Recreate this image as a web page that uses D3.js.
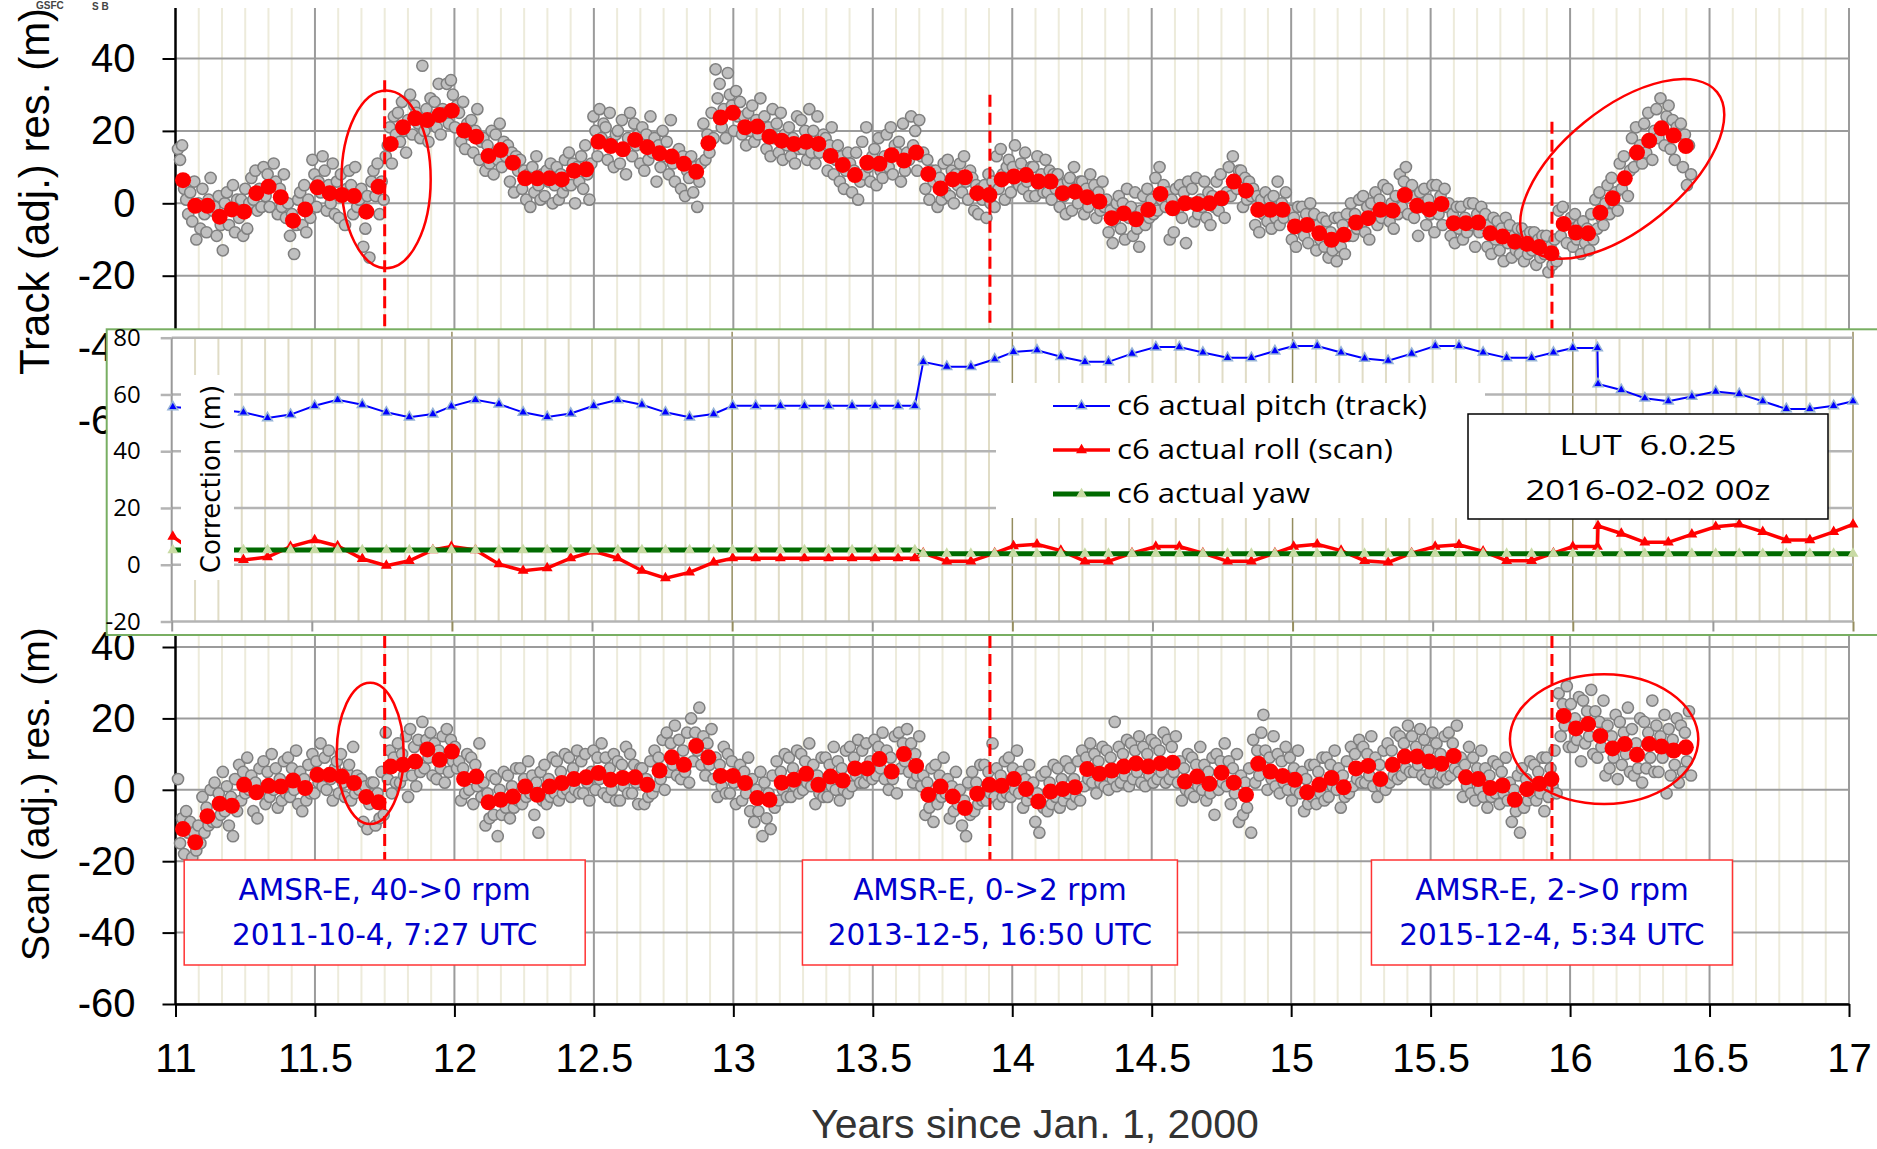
<!DOCTYPE html>
<html>
<head>
<meta charset="utf-8">
<script src="https://cdn.jsdelivr.net/npm/d3@7"></script>
<style>
  body { margin: 0; background: #fff; }
  svg { display: block; }
</style>
</head>
<body>
<div id="chart"></div>
<script>
// ---- data ----
const xTicks = [11, 11.5, 12, 12.5, 13, 13.5, 14, 14.5, 15, 15.5, 16, 16.5, 17];
const resTicks = [40, 20, 0, -20, -40, -60];
const corrTicks = [80, 60, 40, 20, 0, -20];

// 16-day means (red dots), one every 16 days starting at redStart
const redStart = 11.027;
const redStep = 16 / 365.25;
const trackRed = [
  6.4, -0.7, -0.7, -3.7, -1.7, -2.3, 2.8, 4.6, 1.7, -4.8,
  -1.7, 4.4, 2.8, 2.3, 2.0, -2.3, 4.6, 16.4, 21.0, 23.5,
  23.0, 24.4, 25.6, 20.1, 18.4, 13.1, 14.7, 11.2, 6.9, 6.9,
  6.9, 6.6, 9.0, 9.4, 17.0, 15.8, 14.9, 17.5, 15.5, 13.8,
  12.9, 10.9, 8.7, 16.6, 23.7, 25.0, 21.0, 21.2, 18.4,
  17.3, 16.4, 17.0, 16.4, 13.1, 10.6, 7.8, 11.2, 10.9, 13.3,
  11.8, 14.0, 8.1, 4.1, 6.6, 7.2, 2.8, 2.3, 6.6, 7.4,
  7.8, 6.0, 6.0, 2.8, 3.2, 1.7, 0.5, -4.1, -2.8, -4.4,
  -1.8, 2.6, -1.4, 0.0, -0.2, 0.0, 1.4, 6.0, 3.5, -1.8,
  -1.8, -1.8, -6.4, -6.0, -8.3, -10.1,
  -8.7, -5.3, -4.1, -1.8, -2.0, 2.3, -0.7, -1.7, -0.2, -5.5,
  -5.5, -5.3, -8.3, -9.2, -10.6, -11.2, -12.1, -13.8, -5.7, -8.1,
  -8.3, -2.6, 1.4, 6.9, 14.0, 17.3, 20.7, 18.7, 15.8
];
const scanRed = [
  -11.0, -14.7, -7.4, -3.9, -4.5, 1.4, -0.7, 1.1, 0.9, 2.6,
  0.5, 4.2, 4.2, 3.7, 1.9, -2.0, -3.5, 6.5, 7.0, 7.9,
  11.3, 8.4, 10.7, 3.0, 3.7, -3.5, -2.8, -1.9, 0.9, -1.4,
  0.9, 1.9, 3.0, 3.5, 4.7, 2.8, 3.3, 3.5, 1.4, 5.4,
  9.1, 7.0, 12.3, 9.1, 3.9, 3.9, 1.9, -2.3, -2.8,
  2.0, 2.8, 4.5, 1.4, 3.7, 2.6, 6.0, 6.0, 8.6, 5.1,
  10.0, 6.7, -1.4, 0.9, -1.9, -5.1, -1.1, 1.4, 1.1, 3.0,
  0.2, -3.3, -0.5, 0.2, 0.7, 5.8, 4.5, 5.4, 6.5, 7.4,
  6.5, 7.4, 7.6, 2.3, 3.7, 1.7, 4.8, 2.0, -1.4, 7.3,
  5.1, 3.9, 2.8,
  -0.7, 1.4, 3.3, 0.7, 6.0, 6.7, 3.0, 7.0, 9.3, 9.3,
  7.9, 7.3, 9.5, 3.5, 3.0, 0.5, 1.2, -2.8, 0.2, 1.7,
  3.0, 20.7, 17.2, 18.4, 15.1, 11.6, 12.8, 9.8, 12.8, 12.1,
  11.0, 11.9
];

// individual residuals (gray), six per 16-day period
const grayStart = 11.009;
const grayStep = redStep / 6;
const trackGray = [
  15,12,16,4,1,-3, 3,-5,6,-10,0,-7, 4,-3,-8,1,7,-2, -1,-9,2,-6,-13,0, 3,-6,-2,5,-8,1,
  -4,1,-9,4,-7,0, 7,1,9,-2,4,-1, 10,2,8,-1,5,11, 6,-3,4,-1,8,-4, 0,-9,-3,-14,-6,1,
  3,-6,5,-8,1,-4, 12,8,-1,6,3,13, 9,-2,5,0,11,-3, 6,-4,8,2,-6,4, 9,5,-3,10,-1,1,
  4,-12,-7,2,-15,6, 9,2,11,-3,6,1, 13,16,21,11,24,19, 25,17,28,20,14,23, 30,19,27,25,22,18,
  38,20,26,17,29,22, 28,21,33,19,26,25, 33,22,34,30,21,27, 25,17,28,15,22,19, 23,14,20,26,12,17,
  18,9,16,11,20,8, 19,12,22,10,17,13, 16,6,14,3,13,9, 12,4,9,1,8,-1, 10,3,13,5,1,8,
  2,9,6,11,0,5, 10,1,8,3,12,5, 14,5,11,0,10,6, 13,4,16,8,1,11, 24,20,13,26,18,22,
  21,12,25,17,10,19, 20,11,23,15,8,18, 25,13,22,16,19,11, 21,9,19,12,24,14, 18,6,16,10,20,13,
  17,8,23,11,6,14, 15,4,13,2,9,7, 13,3,10,-1,6,11, 22,12,19,14,25,18, 37,29,33,21,26,18,
  36,30,27,20,31,24, 28,19,24,16,25,20, 27,17,23,19,29,22, 24,15,21,13,26,18, 22,14,25,12,19,16,
  21,13,18,11,24,15, 23,15,20,12,26,14, 20,11,24,14,17,19, 18,9,16,21,8,12, 16,6,13,4,9,14,
  11,3,9,14,1,6, 17,8,21,10,6,13, 15,5,18,9,7,13, 19,10,21,8,16,14, 17,6,22,9,14,12,
  24,16,20,9,23,13, 14,4,12,1,9,6, 9,-1,7,1,11,3, 12,2,9,0,8,5, 11,3,13,6,1,9,
  7,-2,5,-3,4,1, 5,-4,8,0,6,-1, 13,4,15,8,1,10, 12,3,10,16,6,5, 11,4,14,6,2,10,
  10,2,13,5,8,3, 12,3,9,1,8,4, 8,-1,5,2,-3,6, 7,-2,10,4,0,6, 6,-3,4,-1,8,2,
  5,-4,3,-2,6,-1, 1,-8,-2,-11,-5,0, 2,-7,0,-10,4,-4, -1,-9,3,-7,-12,-2, 2,-6,4,-4,1,-3,
  7,-2,10,1,5,-1, 3,-10,1,-8,4,-2, 5,-4,3,-11,6,0, 4,-5,7,-3,1,-1, 6,-4,3,-6,2,-1,
  6,-2,8,1,-4,3, 10,2,13,6,4,9, 9,-1,7,1,6,2, 4,-6,2,-8,1,-3, 3,-5,1,-7,2,-4,
  6,-6,0,-4,3,-2, -2,-10,-4,-12,-1,-7, -1,-9,-3,-11,0,-6, -3,-13,-6,-10,-4,-12, -5,-15,-8,-13,-4,-16,
  -4,-12,-6,-14,-3,-9, 0,-9,-3,-7,1,-6, 2,-8,-1,-10,0,-4, 3,-6,1,-4,5,-2, 4,-5,0,-7,2,-3,
  8,-1,6,10,-3,3, 5,-4,2,-9,3,-1, 4,-6,1,-3,5,-8, 5,-3,2,-6,4,-1, 0,-9,-3,-11,-1,-7,
  -1,-10,-4,-8,0,-6, 0,-12,-3,-8,-1,-6, -3,-12,-6,-14,-4,-10, -5,-13,-7,-16,-4,-11, -6,-15,-9,-13,-7,-14,
  -7,-16,-9,-14,-8,-13, -8,-17,-10,-15,-9,-14, -9,-19,-12,-17,-10,-16, -2,-9,-1,-6,-11,-5, -4,-12,-3,-10,-6,-14,
  -5,-11,-7,-13,-3,-10, 1,-7,3,-4,-6,0, 5,-3,7,0,3,-2, 11,4,13,7,2,9, 18,10,21,13,16,11,
  22,14,25,17,12,20, 26,18,29,21,16,24, 27,15,23,12,21,19, 22,10,19,5,16,8
];
const scanGray = [
  3,-15,-8,-18,-6,-12, -9,-19,-12,-17,-10,-15, -2,-12,-5,-10,0,-9, 2,-9,-1,-7,5,-6, 1,-10,-2,-13,3,-6,
  7,-3,5,-1,9,0, 4,-6,2,-8,6,-1, 8,-4,5,-2,10,0, 6,-5,3,-3,8,-1, 9,-2,6,0,11,-4,
  5,-6,3,-3,7,-1, 10,-1,8,2,13,1, 9,0,11,3,-3,6, 8,-1,10,2,-2,5, 7,-3,12,-1,4,0,
  3,-9,1,-11,-4,2, 2,-10,-1,-8,5,-7, 16,3,11,-1,9,2, 13,2,10,4,15,-2, 17,4,12,1,14,5,
  19,6,14,9,16,4, 13,3,11,6,15,2, 17,5,14,8,12,6, 8,-3,6,-1,10,0, 9,-4,7,1,13,-2,
  2,-10,-1,-8,4,-7, 3,-13,0,-7,5,-5, 4,-8,1,-5,6,-3, 6,-4,3,-2,8,-1, 4,-7,2,-12,5,-3,
  7,-4,3,-2,9,-1, 8,-3,5,-1,10,0, 9,-2,6,0,11,-1, 8,-1,10,2,-3,5, 11,0,9,3,13,-1,
  9,-2,6,0,10,-3, 8,-3,7,1,12,-1, 10,-1,7,2,-4,6, 6,-4,3,-2,8,-1, 11,1,9,3,14,0,
  16,5,13,7,18,4, 14,3,11,5,16,2, 20,8,16,11,23,7, 15,4,13,7,17,3, 9,-2,7,1,12,-1,
  10,-1,8,2,-4,5, 7,-3,5,-1,9,-6, 3,-9,0,-6,5,-13, 2,-8,-1,-11,4,-5, 8,-3,5,0,10,-2,
  9,-2,6,1,11,-1, 10,0,8,2,13,1, 7,-4,4,-1,9,-2, 9,-2,7,1,12,0, 8,-3,6,0,11,-1,
  12,1,9,4,14,2, 11,2,13,4,8,3, 14,4,12,6,16,3, 11,0,9,3,15,-1, 16,6,13,8,17,5,
  13,2,10,4,15,1, 4,-7,2,-5,6,-9, 7,-4,4,-2,9,-1, 3,-8,1,-6,5,-4, 0,-10,-3,-13,2,-7,
  5,-6,2,-4,7,-3, 7,-3,5,-1,13,-2, 6,-4,4,-2,8,-1, 9,-2,6,0,11,-1, 5,-5,3,-3,7,-1,
  2,-9,-1,-12,4,-5, 5,-6,2,-4,7,-2, 6,-5,3,-3,8,-1, 6,-4,3,-2,8,-3, 11,1,9,3,13,2,
  10,-1,8,2,12,1, 11,0,9,3,19,1, 12,2,10,4,14,1, 13,3,11,5,15,2, 12,1,10,4,14,2,
  13,3,11,5,16,2, 14,3,12,5,15,2, 8,-3,6,0,10,-1, 9,-2,7,1,12,0, 7,-3,5,-1,9,-7,
  10,0,8,2,13,1, 8,-4,6,-1,10,-9, 4,-7,2,-5,6,-12, 14,2,11,4,16,21, 11,0,9,3,15,1,
  10,-1,8,2,12,0, 9,-3,6,0,11,-1, 5,-6,3,-4,7,-2, 7,-4,5,-1,9,-3, 9,-2,7,1,11,0,
  6,-5,4,-2,8,-1, 12,1,10,3,14,2, 12,2,10,4,15,1, 9,-2,7,1,11,0, 13,2,11,4,16,3,
  15,4,13,6,18,5, 15,5,12,7,17,4, 14,3,11,5,16,2, 13,2,10,4,15,3, 16,4,13,6,18,5,
  9,-2,7,1,12,-1, 9,-3,6,0,11,-2, 6,-5,4,-2,8,-1, 7,-4,5,-1,9,-3, 2,-9,0,-6,4,-12,
  6,-5,3,-3,8,-1, 7,-3,5,-1,9,-6, 9,-2,6,1,11,-1, 27,15,24,18,29,12, 24,12,20,14,26,8,
  25,13,22,15,28,10, 22,9,19,12,25,4, 18,6,15,9,21,3, 19,7,16,10,23,5, 17,4,13,6,20,2,
  19,6,16,9,25,5, 18,5,15,9,21,-1, 17,4,14,7,20,2, 18,5,16,8,22,4
];

// spin-rate events
const eventYears = [11.75, 13.92, 15.935];
const eventTops = [34, 30, 22.5];
const eventLine1 = ["AMSR-E, 40->0 rpm", "AMSR-E, 0->2 rpm", "AMSR-E, 2->0 rpm"];
const eventLine2 = ["2011-10-4, 7:27 UTC", "2013-12-5, 16:50 UTC", "2015-12-4, 5:34 UTC"];

// inset: c6 corrections
const corrYears = [
  11.004, 11.09, 11.17, 11.256, 11.342, 11.424, 11.51, 11.592, 11.68, 11.766,
  11.848, 11.932, 11.998, 12.084, 12.168, 12.254, 12.34, 12.424, 12.506, 12.592,
  12.678, 12.762, 12.848, 12.934, 13.002, 13.084, 13.172, 13.258, 13.344, 13.428,
  13.51, 13.592, 13.652, 13.682, 13.766, 13.852, 13.937, 14.004, 14.088, 14.173,
  14.259, 14.343, 14.427, 14.512, 14.596, 14.68, 14.768, 14.853, 14.937, 15.004,
  15.088, 15.173, 15.257, 15.341, 15.425, 15.509, 15.594, 15.68, 15.764, 15.853,
  15.931, 16.0, 16.088, 16.09, 16.173, 16.257, 16.341, 16.425, 16.51, 16.594,
  16.678, 16.762, 16.846, 16.931, 17.0
];
const pitch = [
  55.6, 55.0, 54.5, 53.7, 51.7, 52.9, 56.0, 58.1, 56.4, 53.7,
  52.0, 53.1, 55.8, 58.1, 56.6, 53.7, 52.1, 53.3, 56.0, 58.1,
  56.4, 53.7, 52.0, 53.1, 56.0, 56.0, 56.0, 56.0, 56.0, 56.0,
  56.0, 56.0, 56.0, 71.5, 69.8, 69.8, 72.4, 75.0, 75.6, 73.3,
  71.5, 71.5, 74.4, 76.7, 76.7, 74.8, 72.9, 72.9, 75.3, 77.1,
  77.1, 74.8, 72.7, 71.9, 74.4, 77.1, 77.1, 74.8, 72.9, 72.9,
  74.8, 76.4, 76.4, 63.7, 61.6, 58.7, 57.6, 59.3, 61.0, 60.2,
  57.6, 54.9, 54.9, 56.0, 57.6
];
const roll = [
  9.9, 4.0, 2.0, 1.7, 2.7, 6.4, 8.7, 6.6, 2.1, -0.3,
  1.4, 5.2, 6.4, 5.2, 0.2, -2.1, -1.2, 2.3, 4.7, 2.3,
  -2.1, -4.7, -2.7, 0.8, 2.3, 2.3, 2.3, 2.3, 2.3, 2.3,
  2.3, 2.3, 2.3, 4.1, 1.2, 1.2, 4.1, 6.6, 7.2, 5.0,
  1.2, 1.2, 4.1, 6.4, 6.4, 4.1, 1.2, 1.2, 4.1, 6.4,
  7.2, 5.0, 1.4, 0.8, 4.1, 6.4, 7.0, 4.7, 1.4, 1.4,
  4.1, 6.4, 6.4, 13.7, 11.0, 7.9, 7.9, 10.7, 13.4, 14.2,
  11.6, 8.7, 8.7, 11.6, 14.2
];
const yaw = [
  5.2, 5.2, 5.2, 5.2, 5.2, 5.2, 5.2, 5.2, 5.2, 5.2,
  5.2, 5.2, 5.2, 5.2, 5.2, 5.2, 5.2, 5.2, 5.2, 5.2,
  5.2, 5.2, 5.2, 5.2, 5.2, 5.2, 5.2, 5.2, 5.2, 5.2,
  5.2, 5.2, 5.2, 3.9, 3.9, 3.9, 3.9, 3.9, 3.9, 3.9,
  3.9, 3.9, 3.9, 3.9, 3.9, 3.9, 3.9, 3.9, 3.9, 3.9,
  3.9, 3.9, 3.9, 3.9, 3.9, 3.9, 3.9, 3.9, 3.9, 3.9,
  3.9, 3.9, 3.9, 3.9, 3.9, 3.9, 3.9, 3.9, 3.9, 3.9,
  3.9, 3.9, 3.9, 3.9, 3.9
];

// ---- drawing ----
const W = 1877, H = 1149;
const FONT = "'Liberation Sans', Arial, sans-serif";
const svg = d3.select("#chart").append("svg").attr("width", W).attr("height", H);
svg.append("rect").attr("width", W).attr("height", H).attr("fill", "#fff");

const x = d3.scaleLinear().domain([11, 17]).range([175.5, 1849]);
const yTrack = d3.scaleLinear().domain([-60, 40]).range([420.5, 58.5]);
const yScan = d3.scaleLinear().domain([-60, 40]).range([1004, 647]);

const months = d3.range(0, 73).map(i => 11 + i / 12);
const isHalf = d => Math.abs(d * 2 - Math.round(d * 2)) < 1e-6;

function drawPanel(y, yTop, yBottom, gray, red) {
    const g = svg.append("g");
    // monthly grid (light beige)
    g.append("g").selectAll("line")
        .data(months.filter(d => !isHalf(d)))
        .join("line")
        .attr("x1", d => x(d)).attr("x2", d => x(d))
        .attr("y1", yTop).attr("y2", yBottom)
        .attr("stroke", "#edebdb").attr("stroke-width", 2);
    // half-year grid
    g.append("g").selectAll("line")
        .data(xTicks.slice(1))
        .join("line")
        .attr("x1", d => x(d)).attr("x2", d => x(d))
        .attr("y1", yTop).attr("y2", yBottom)
        .attr("stroke", "#9b9b9b").attr("stroke-width", 2);
    // horizontal grid
    g.append("g").selectAll("line")
        .data(resTicks.filter(d => y(d) >= yTop && y(d) <= yBottom))
        .join("line")
        .attr("x1", x(11)).attr("x2", x(17))
        .attr("y1", d => y(d)).attr("y2", d => y(d))
        .attr("stroke", "#9b9b9b").attr("stroke-width", 2);

    const ax = g.append("g")
        .attr("transform", `translate(${x(11)},0)`)
        .call(d3.axisLeft(y).tickValues(resTicks).tickSize(13).tickPadding(27).tickFormat(d => String(d)))
        .attr("font-family", FONT).attr("font-size", 40);
    ax.select(".domain").remove();
    ax.selectAll("line").attr("stroke", "#000").attr("stroke-width", 2);
    ax.selectAll("text").attr("fill", "#000");
    g.append("line")
        .attr("x1", x(11)).attr("x2", x(11)).attr("y1", yTop).attr("y2", yBottom)
        .attr("stroke", "#000").attr("stroke-width", 2.5);

    // individual residuals
    g.append("g").selectAll("circle")
        .data(gray.map((v, i) => ({yr: grayStart + i * grayStep, v})))
        .join("circle")
        .attr("cx", d => x(d.yr)).attr("cy", d => y(d.v)).attr("r", 5.6)
        .attr("fill", "#c0c0c0").attr("stroke", "#7f7f7f").attr("stroke-width", 1.5);
    // 16-day means
    g.append("g").selectAll("circle")
        .data(red.map((v, i) => ({yr: redStart + i * redStep, v})))
        .join("circle")
        .attr("cx", d => x(d.yr)).attr("cy", d => y(d.v)).attr("r", 8)
        .attr("fill", "#ff0000");
    return g;
}

function ellipse(g, y, yr, v, rx, ry, rot) {
    g.append("ellipse")
        .attr("transform", `translate(${x(yr)},${y(v)}) rotate(${rot})`)
        .attr("rx", rx).attr("ry", ry)
        .attr("fill", "none").attr("stroke", "#ff0000").attr("stroke-width", 2.5);
}

// top: track residuals
const trackPanel = drawPanel(yTrack, 8, yTrack(-60), trackGray, trackRed);
ellipse(trackPanel, yTrack, 11.755, 6.6, 44.6, 88.8, 0);
ellipse(trackPanel, yTrack, 16.187, 9.5, 122, 60, -39);
trackPanel.append("g").selectAll("line")
    .data(eventYears)
    .join("line")
    .attr("x1", d => x(d)).attr("x2", d => x(d))
    .attr("y1", (d, i) => yTrack(eventTops[i])).attr("y2", yTrack(-60))
    .attr("stroke", "#ff0000").attr("stroke-width", 3).attr("stroke-dasharray", "12,6");

// bottom: scan residuals
const scanPanel = drawPanel(yScan, 575, yScan(-60), scanGray, scanRed);
ellipse(scanPanel, yScan, 11.698, 10.2, 33.5, 70.7, 0);
ellipse(scanPanel, yScan, 16.122, 14.2, 94.2, 64.8, 0);
scanPanel.append("g").selectAll("line")
    .data(eventYears)
    .join("line")
    .attr("x1", d => x(d)).attr("x2", d => x(d))
    .attr("y1", 636).attr("y2", 880)
    .attr("stroke", "#ff0000").attr("stroke-width", 3).attr("stroke-dasharray", "12,6");

const xAx = scanPanel.append("g")
    .attr("transform", `translate(0,${yScan(-60)})`)
    .call(d3.axisBottom(x).tickValues(xTicks).tickSize(13).tickSizeOuter(0).tickPadding(27).tickFormat(d => String(d)))
    .attr("font-family", FONT).attr("font-size", 40);
xAx.select(".domain").attr("stroke", "#000").attr("stroke-width", 2.5);
xAx.selectAll("line").attr("stroke", "#000").attr("stroke-width", 2);
xAx.selectAll("text").attr("fill", "#000");

// event boxes
const boxW = [401, 375, 361];
const boxes = scanPanel.append("g").selectAll("g")
    .data(eventYears)
    .join("g")
    .attr("transform", d => `translate(${x(d)},860)`);
boxes.append("rect")
    .attr("x", (d, i) => -boxW[i] / 2).attr("y", 0)
    .attr("width", (d, i) => boxW[i]).attr("height", 105)
    .attr("fill", "#fff").attr("stroke", "#ff3333").attr("stroke-width", 1.5);
boxes.append("text")
    .attr("y", 40).attr("text-anchor", "middle")
    .attr("font-family", "'DejaVu Sans', sans-serif").attr("font-size", 29.5).attr("fill", "#0000cc")
    .text((d, i) => eventLine1[i]);
boxes.append("text")
    .attr("y", 85).attr("text-anchor", "middle")
    .attr("font-family", "'DejaVu Sans', sans-serif").attr("font-size", 29.5).attr("fill", "#0000cc")
    .text((d, i) => eventLine2[i]);

// ---- inset: corrections ----
const xIn = d3.scaleLinear().domain([11, 17]).range([171.7, 1853]);
const yIn = d3.scaleLinear().domain([-20, 80]).range([621.5, 337.7]);
const inset = svg.append("g");
inset.append("rect")
    .attr("x", 106.7).attr("y", 329.3).attr("width", 1790).attr("height", 305.7)
    .attr("fill", "#fff").attr("stroke", "#78ae62").attr("stroke-width", 2);
inset.append("g").selectAll("line")
    .data(months.filter(d => Math.abs(d - Math.round(d)) > 1e-6))
    .join("line")
    .attr("x1", d => xIn(d)).attr("x2", d => xIn(d))
    .attr("y1", yIn(80)).attr("y2", yIn(-20))
    .attr("stroke", "#e0dcc6").attr("stroke-width", 2);
inset.append("g").selectAll("line")
    .data([12, 13, 14, 15, 16, 17])
    .join("line")
    .attr("x1", d => xIn(d)).attr("x2", d => xIn(d))
    .attr("y1", yIn(80) - 6).attr("y2", yIn(-20))
    .attr("stroke", "#958d5f").attr("stroke-width", 1.5);
inset.append("g").selectAll("line")
    .data(corrTicks)
    .join("line")
    .attr("x1", xIn(11)).attr("x2", xIn(17))
    .attr("y1", d => yIn(d)).attr("y2", d => yIn(d))
    .attr("stroke", "#b4b4b4").attr("stroke-width", 2.5);
inset.append("line")
    .attr("x1", xIn(11)).attr("x2", xIn(11)).attr("y1", yIn(80)).attr("y2", yIn(-20))
    .attr("stroke", "#999").attr("stroke-width", 2);
const inAx = inset.append("g")
    .attr("transform", `translate(${xIn(11)},0)`)
    .call(d3.axisLeft(yIn).tickValues(corrTicks).tickSize(11).tickPadding(20).tickFormat(d => String(d)))
    .attr("font-family", "'Open Sans', sans-serif").attr("font-size", 24);
inAx.select(".domain").remove();
inAx.selectAll("line").attr("stroke", "#b4b4b4").attr("stroke-width", 2.5);
inAx.selectAll("text").attr("fill", "#000");
const inXAx = inset.append("g")
    .attr("transform", `translate(0,${yIn(-20)})`)
    .call(d3.axisBottom(xIn).tickValues(xTicks).tickSize(10).tickFormat(""));
inXAx.select(".domain").remove();
inXAx.selectAll("line")
    .attr("stroke", d => Number.isInteger(d) && d > 11 ? "#958d5f" : "#999")
    .attr("stroke-width", 2);

const corrLine = d3.line().x(d => xIn(d.yr)).y(d => yIn(d.v));
const series = [
    {vals: pitch, color: "#0000ff", width: 2, mFill: "#0000ff", mStroke: "#95b3d7", mSize: 42},
    {vals: roll, color: "#ff0000", width: 3.5, mFill: "#ff0000", mStroke: "#ff0000", mSize: 30},
    {vals: yaw, color: "#006a00", width: 5, mFill: "#c9dba5", mStroke: "#c9dba5", mSize: 30}
];
const tri = d3.symbol().type(d3.symbolTriangle);
series.forEach(s => {
    const pts = s.vals.map((v, i) => ({yr: corrYears[i], v}));
    inset.append("path").datum(pts)
        .attr("d", corrLine)
        .attr("fill", "none").attr("stroke", s.color).attr("stroke-width", s.width);
    inset.append("g").selectAll("path")
        .data(pts)
        .join("path")
        .attr("transform", d => `translate(${xIn(d.yr)},${yIn(d.v)})`)
        .attr("d", tri.size(s.mSize)())
        .attr("fill", s.mFill).attr("stroke", s.mStroke).attr("stroke-width", 1.5);
});

// inset y title
inset.append("rect").attr("x", 181).attr("y", 375).attr("width", 53).attr("height", 205).attr("fill", "#fff");
inset.append("text")
    .attr("transform", "translate(220,479) rotate(-90)")
    .attr("text-anchor", "middle")
    .attr("font-family", "'DejaVu Sans', sans-serif").attr("font-size", 26).attr("fill", "#000")
    .text("Correction (m)");

// legend
const legendNames = ["c6 actual pitch (track)", "c6 actual roll (scan)", "c6 actual yaw"];
const legendLen = [310, 276, 193];
inset.append("rect").attr("x", 996).attr("y", 383).attr("width", 489).attr("height", 135).attr("fill", "#fff");
const leg = inset.append("g").selectAll("g")
    .data(series)
    .join("g")
    .attr("transform", (d, i) => `translate(1053,${406 + i * 44})`);
leg.append("line")
    .attr("x1", 0).attr("x2", 57)
    .attr("stroke", d => d.color).attr("stroke-width", d => d.width);
leg.append("path")
    .attr("transform", "translate(28.5,0)")
    .attr("d", d => tri.size(d.mSize)())
    .attr("fill", d => d.mFill).attr("stroke", d => d.mStroke).attr("stroke-width", 1.5);
leg.append("text")
    .attr("x", 64).attr("y", 9)
    .attr("font-family", "'Open Sans', sans-serif").attr("font-size", 28).attr("fill", "#000")
    .attr("textLength", (d, i) => legendLen[i]).attr("lengthAdjust", "spacingAndGlyphs")
    .text((d, i) => legendNames[i]);

// LUT box
inset.append("rect").attr("x", 1468).attr("y", 414).attr("width", 360).attr("height", 105)
    .attr("fill", "#fff").attr("stroke", "#000").attr("stroke-width", 1.5);
inset.append("text")
    .attr("x", 1648).attr("y", 455).attr("text-anchor", "middle")
    .attr("font-family", "'Open Sans', sans-serif").attr("font-size", 28)
    .attr("textLength", 177).attr("lengthAdjust", "spacingAndGlyphs")
    .style("white-space", "pre")
    .text("LUT  6.0.25");
inset.append("text")
    .attr("x", 1648).attr("y", 500).attr("text-anchor", "middle")
    .attr("font-family", "'Open Sans', sans-serif").attr("font-size", 28)
    .attr("textLength", 245).attr("lengthAdjust", "spacingAndGlyphs")
    .text("2016-02-02 00z");

// axis titles
svg.append("text")
    .attr("transform", "translate(49,375) rotate(-90)")
    .attr("font-family", FONT).attr("font-size", 42).attr("fill", "#000")
    .text("Track (adj.) res. (m)");
svg.append("text")
    .attr("transform", "translate(49,961) rotate(-90)")
    .attr("font-family", FONT).attr("font-size", 39).attr("fill", "#000")
    .text("Scan (adj.) res. (m)");
svg.append("text")
    .attr("x", 1035).attr("y", 1138).attr("text-anchor", "middle")
    .attr("font-family", FONT).attr("font-size", 41).attr("fill", "#333")
    .text("Years since Jan. 1, 2000");

// logo remnant top-left
svg.append("text").attr("x", 36).attr("y", 9)
    .attr("font-family", FONT).attr("font-size", 10).attr("font-weight", "bold").attr("fill", "#444")
    .text("GSFC");
svg.append("text").attr("x", 92).attr("y", 10)
    .attr("font-family", FONT).attr("font-size", 10).attr("font-weight", "bold").attr("fill", "#444")
    .text("S B");
</script>
</body>
</html>
